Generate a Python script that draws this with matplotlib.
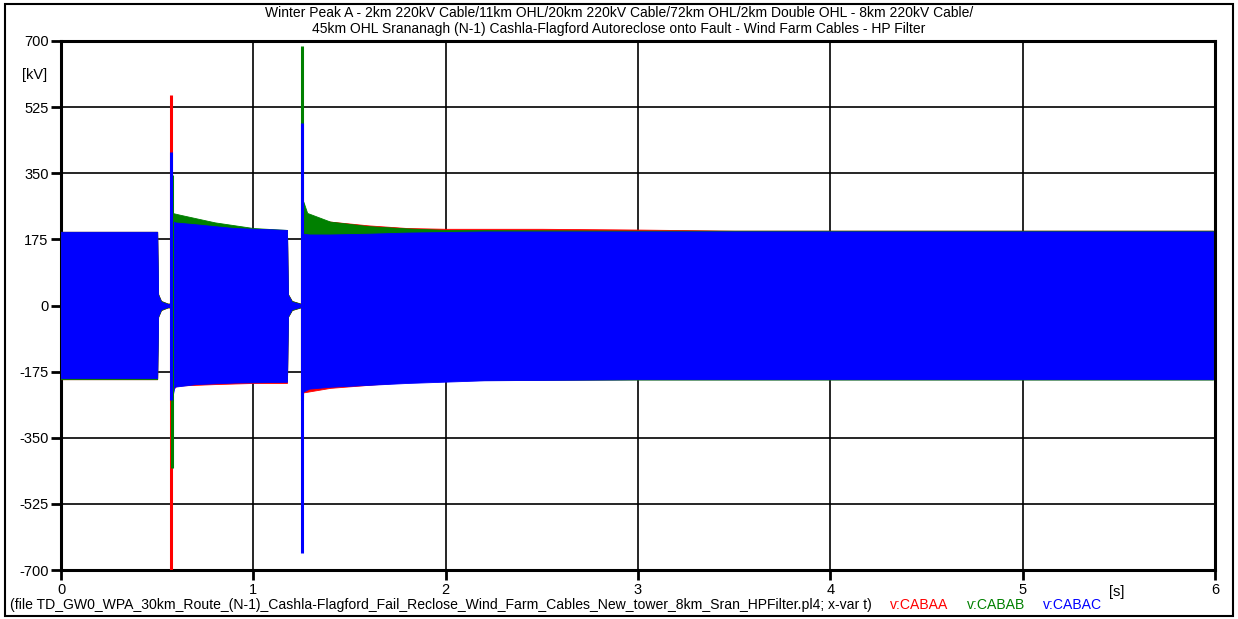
import matplotlib
matplotlib.use("Agg")
import matplotlib.pyplot as plt
from matplotlib.patches import Rectangle

plt.rcParams["font.family"] = ["Liberation Sans", "DejaVu Sans"]

# --- Огибающие трёх фаз (кВ) ---
# фаза A (v:CABAA)
t_a = [0.0, 0.500, 0.505, 0.52, 0.555, 0.575, 0.578, 0.60, 0.80, 1.00, 1.175,
       1.180, 1.20, 1.245, 1.256, 1.26, 1.40, 1.60, 1.80, 2.00, 2.50, 3.00, 3.50, 5.99]
up_a = [195, 195, 30, 12, 5, 5, 215, 212, 205, 200, 198,
        30, 12, 5, 5, 225, 222, 212, 205, 203, 203, 201, 198, 198]
lo_a = [-195, -195, -30, -12, -5, -5, -225, -212, -208, -205, -205,
        -30, -12, -5, -5, -230, -218, -210, -202, -198, -196, -195, -195, -195]

# фаза B (v:CABAB)
t_b = [0.0, 0.500, 0.505, 0.52, 0.555, 0.575, 0.578, 0.62, 0.80, 1.00, 1.175,
       1.180, 1.20, 1.245, 1.256, 1.26, 1.28, 1.40, 1.60, 1.80, 2.00, 3.00, 5.99]
up_b = [195, 195, 30, 12, 5, 5, 245, 240, 220, 205, 200,
        30, 12, 5, 5, 275, 245, 222, 210, 204, 200, 198, 198]
lo_b = [-195, -195, -30, -12, -5, -5, -210, -205, -203, -202, -200,
        -30, -12, -5, -5, -212, -210, -206, -202, -199, -197, -196, -196]

# фаза C (v:CABAC)
t_c = [0.0, 0.500, 0.505, 0.52, 0.555, 0.575, 0.578, 0.59, 0.70, 0.90, 1.175,
       1.180, 1.20, 1.245, 1.256, 1.26, 1.29, 1.40, 1.60, 1.80, 2.20, 3.00, 5.99]
up_c = [195, 195, 28, 10, 4, 4, 225, 220, 215, 205, 200,
        28, 10, 4, 4, 190, 188, 188, 190, 193, 196, 196, 196]
lo_c = [-192, -192, -28, -10, -4, -4, -245, -215, -208, -204, -202,
        -28, -10, -4, -4, -228, -220, -215, -210, -205, -198, -195, -195]

# всплески при повторном включении: время, минимум, максимум
spike_t_a = [0.572, 1.254]
spike_lo_a = [-700, -240]
spike_hi_a = [558, 230]
spike_t_b = [0.575, 1.252]
spike_lo_b = [-430, -250]
spike_hi_b = [345, 687]
spike_t_c = [0.573, 1.252]
spike_lo_c = [-251, -655]
spike_hi_c = [406, 483]

x_ticks = [0, 1, 2, 3, 4, 5, 6]
y_ticks = [-700, -525, -350, -175, 0, 175, 350, 525, 700]

title = ("Winter Peak A - 2km 220kV Cable/11km OHL/20km 220kV Cable/72km OHL/2km Double OHL - 8km 220kV Cable/\n"
         "45km OHL Srananagh (N-1) Cashla-Flagford Autoreclose onto Fault - Wind Farm Cables - HP Filter")
file_text = "(file TD_GW0_WPA_30km_Route_(N-1)_Cashla-Flagford_Fail_Reclose_Wind_Farm_Cables_New_tower_8km_Sran_HPFilter.pl4; x-var t)"

RED, GREEN, BLUE = "#ff0000", "#008000", "#0000ff"

fig = plt.figure(figsize=(12.38, 6.19), dpi=100)
ax = fig.add_axes([61 / 1238, 1 - 570 / 619, (1215 - 61) / 1238, (570 - 41) / 619])

# рамка вокруг всего рисунка
fig.patches.append(Rectangle((5 / 1238, 3 / 619), 1228 / 1238, 612 / 619,
                             transform=fig.transFigure, fill=False,
                             edgecolor="black", linewidth=1.5))

for t, up, lo, c in [(t_a, up_a, lo_a, RED), (t_b, up_b, lo_b, GREEN), (t_c, up_c, lo_c, BLUE)]:
    ax.fill_between(t, lo, up, color=c, linewidth=0.6, zorder=3)

ax.vlines(spike_t_a, spike_lo_a, spike_hi_a, color=RED, linewidth=2.2, zorder=4)
ax.vlines(spike_t_b, spike_lo_b, spike_hi_b, color=GREEN, linewidth=2.2, zorder=5)
ax.vlines(spike_t_c, spike_lo_c, spike_hi_c, color=BLUE, linewidth=2.2, zorder=6)

ax.set_xlim(0, 6)
ax.set_ylim(-700, 700)
ax.set_xticks(x_ticks)
ax.set_yticks(y_ticks)
ax.set_xticklabels([str(v) for v in x_ticks], fontsize=10.5)
ax.set_yticklabels([str(v) for v in y_ticks], fontsize=10.5)
ax.tick_params(direction="out", length=7, width=2, pad=2)
ax.grid(True, color="black", linewidth=1.2, zorder=1)
ax.set_axisbelow(True)
for s in ax.spines.values():
    s.set_linewidth(2.2)

ax.text(-0.012, 610, "[kV]", ha="right", va="center", fontsize=10.5,
        transform=ax.get_yaxis_transform())
ax.text(5.49, -0.028, "[s]", ha="center", va="top", fontsize=10.5,
        transform=ax.get_xaxis_transform())

fig.text(0.5, 1 - 21 / 619, title, ha="center", va="center", fontsize=10, linespacing=1.2)
fig.text(10 / 1238, 1 - 605 / 619, file_text, ha="left", va="center", fontsize=10.1)
fig.text(890 / 1238, 1 - 605 / 619, "v:CABAA", ha="left", va="center", fontsize=10.1, color=RED)
fig.text(967 / 1238, 1 - 605 / 619, "v:CABAB", ha="left", va="center", fontsize=10.1, color=GREEN)
fig.text(1043 / 1238, 1 - 605 / 619, "v:CABAC", ha="left", va="center", fontsize=10.1, color=BLUE)

fig.savefig("out.png", dpi=100)
